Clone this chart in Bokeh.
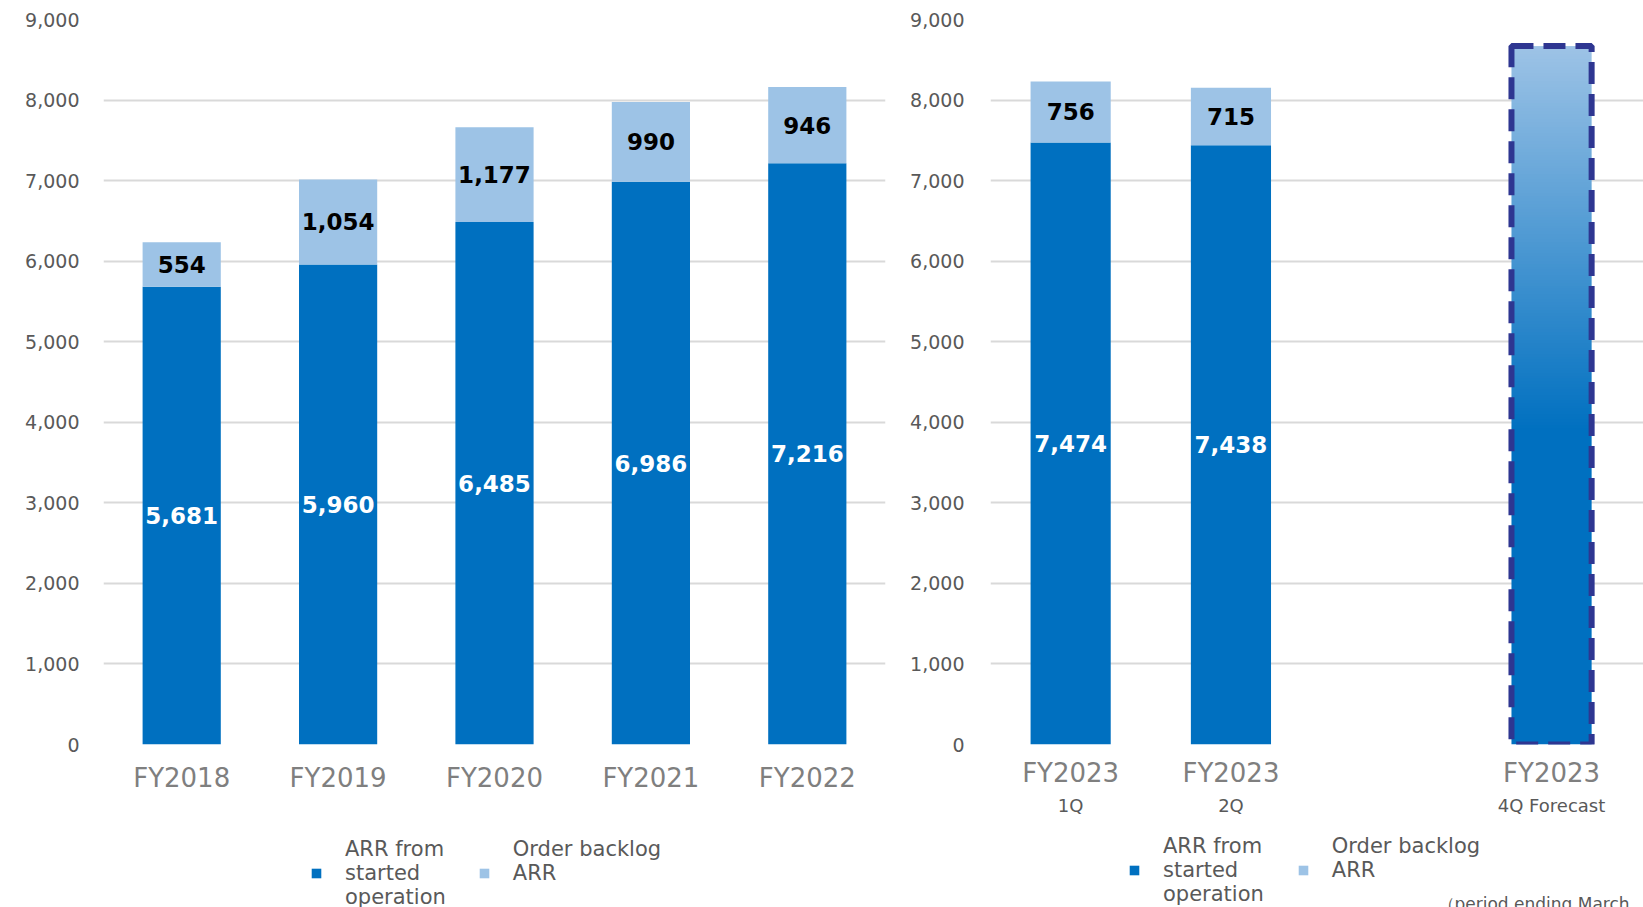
import numpy as np
from bokeh.plotting import figure
from bokeh.models import (ColumnDataSource, FactorRange, Range1d, FixedTicker,
                          NumeralTickFormatter, LinearAxis, Legend, LegendItem, Label)
from bokeh.layouts import row, column
from bokeh.core.properties import value
from bokeh.embed import file_html
from bokeh.resources import INLINE

# ---------------- data ----------------
years = ["FY2018", "FY2019", "FY2020", "FY2021", "FY2022"]
arr_started = [5681, 5960, 6485, 6986, 7216]
arr_backlog = [554, 1054, 1177, 990, 946]

quarter_slots = ["1Q", "2Q", "3Q", "4Q"]
q_periods = ["1Q", "2Q"]
q_started = [7474, 7438]
q_backlog = [756, 715]
forecast_slot = "4Q"
forecast_total = 8670

q_tick_slots = ["1Q", "2Q", "4Q"]
q_main_labels = ["FY2023", "FY2023", "FY2023"]
q_sub_labels = ["1Q", "2Q", "4Q Forecast"]

y_ticks = [0, 1000, 2000, 3000, 4000, 5000, 6000, 7000, 8000, 9000]
series_names = ["ARR from\nstarted\noperation", "Order backlog\nARR\n "]
note_text = "（period ending March."

# ---------------- style ----------------
FONT = "DejaVu Sans"
DARK = "#0070C0"
LIGHT = "#9DC3E6"
GRID = "#D9D9D9"
GREY = "#595959"
XGREY = "#7F7F7F"
BORDER = "#2E3691"
BAR_W = 0.5
TOP_H = 814          # height of the two chart panels
LEG_H = 907 - TOP_H  # height of the legend strip


def style_common(p, left_standoff):
    p.outline_line_color = None
    p.background_fill_color = "white"
    p.border_fill_color = "white"
    p.xgrid.grid_line_color = None
    p.ygrid.grid_line_color = GRID
    p.ygrid.grid_line_width = 2
    p.yaxis.ticker = FixedTicker(ticks=y_ticks, minor_ticks=[])
    p.yaxis.formatter = NumeralTickFormatter(format="0,0")
    for ax in p.yaxis:
        ax.axis_line_color = None
        ax.major_tick_line_color = None
        ax.minor_tick_line_color = None
        ax.major_tick_out = 0
        ax.major_label_standoff = left_standoff
        ax.major_label_text_font = FONT
        ax.major_label_text_font_size = "19px"
        ax.major_label_text_color = GREY


def style_xaxis(ax, size, color, standoff):
    ax.axis_line_color = None
    ax.major_tick_line_color = None
    ax.minor_tick_line_color = None
    ax.major_tick_out = 0
    ax.major_label_standoff = standoff
    ax.major_label_text_font = FONT
    ax.major_label_text_font_size = size
    ax.major_label_text_color = color


def legend_strip(width, src, loc, spacing):
    f = figure(width=width, height=LEG_H, x_range=Range1d(0, 1), y_range=Range1d(0, 1),
               x_axis_type=None, y_axis_type=None, min_border=0,
               output_backend="svg", toolbar_location=None)
    f.outline_line_color = None
    f.grid.grid_line_color = None
    f.background_fill_color = "white"
    f.border_fill_color = "white"
    rs = f.vbar_stack(["started", "backlog"], x="x", width=BAR_W,
                      color=[DARK, LIGHT], line_color=None, source=src)
    for r in rs:
        r.visible = False
    leg = Legend(
        items=[LegendItem(label=series_names[0], renderers=[rs[0]]),
               LegendItem(label=series_names[1], renderers=[rs[1]])],
        location=loc, orientation="horizontal",
        border_line_color=None, background_fill_alpha=0,
        padding=0, margin=0, glyph_width=12, glyph_height=12,
        label_standoff=23, spacing=spacing,
        label_text_font=FONT, label_text_font_size="21px",
        label_text_color=GREY, label_text_line_height=1.45)
    f.add_layout(leg)
    return f


def bar_labels(p, src):
    p.text(x="x", y="y_s", text="t_s", source=src, text_color="white",
           text_font=value(FONT), text_font_size="23px", text_font_style="bold",
           text_align="center", text_baseline="middle")
    p.text(x="x", y="y_b", text="t_b", source=src, text_color="black",
           text_font=value(FONT), text_font_size="23px", text_font_style="bold",
           text_align="center", text_baseline="middle")


# ---------------- left panel ----------------
src1 = ColumnDataSource(dict(
    x=years, started=arr_started, backlog=arr_backlog,
    y_s=[v / 2 for v in arr_started],
    y_b=[s + b / 2 for s, b in zip(arr_started, arr_backlog)],
    t_s=[f"{v:,}" for v in arr_started],
    t_b=[f"{v:,}" for v in arr_backlog]))

p1 = figure(x_range=FactorRange(*years), y_range=Range1d(0, 9000),
            frame_width=782, frame_height=725,
            min_border_left=103, min_border_right=10,
            min_border_top=19, min_border_bottom=TOP_H - 19 - 725,
            output_backend="svg", toolbar_location=None)
style_common(p1, 24)
style_xaxis(p1.xaxis[0], "26px", XGREY, 18)

p1.vbar_stack(["started", "backlog"], x="x", width=BAR_W,
              color=[DARK, LIGHT], line_color=None, source=src1)
bar_labels(p1, src1)

# ---------------- right panel ----------------
slot_w = 160.3
x_q = [quarter_slots.index(q) + 1 for q in q_periods]
x_f = quarter_slots.index(forecast_slot) + 1
x_ticks = [quarter_slots.index(q) + 1 for q in q_tick_slots]

src2 = ColumnDataSource(dict(
    x=x_q, started=q_started, backlog=q_backlog,
    y_s=[v / 2 for v in q_started],
    y_b=[s + b / 2 for s, b in zip(q_started, q_backlog)],
    t_s=[f"{v:,}" for v in q_started],
    t_b=[f"{v:,}" for v in q_backlog]))

p2 = figure(x_range=Range1d(0.5, 0.5 + 653 / slot_w), y_range=Range1d(0, 9000),
            frame_width=653, frame_height=725,
            min_border_left=95, min_border_right=0,
            min_border_top=19, min_border_bottom=TOP_H - 19 - 725,
            output_backend="svg", toolbar_location=None)
style_common(p2, 26)
p2.xaxis.ticker = FixedTicker(ticks=x_ticks, minor_ticks=[])
p2.xaxis.major_label_overrides = {x: l for x, l in zip(x_ticks, q_main_labels)}
style_xaxis(p2.xaxis[0], "26px", XGREY, 13)
ax_sub = LinearAxis(ticker=FixedTicker(ticks=x_ticks, minor_ticks=[]),
                    major_label_overrides={x: l for x, l in zip(x_ticks, q_sub_labels)})
style_xaxis(ax_sub, "18px", GREY, 4)
p2.add_layout(ax_sub, "below")

p2.vbar_stack(["started", "backlog"], x="x", width=BAR_W,
              color=[DARK, LIGHT], line_color=None, source=src2)
bar_labels(p2, src2)

# forecast bar: vertical gradient fill + dashed outline
H = 256
frac = np.linspace(0, 1, H)
t = np.clip((frac - 0.45) / 0.55, 0, 1)
c_dark = np.array([0x00, 0x70, 0xC0], dtype=float)
c_light = np.array([0x9D, 0xC3, 0xE6], dtype=float)
rgb = c_dark[None, :] * (1 - t[:, None]) + c_light[None, :] * t[:, None]
img = np.zeros((H, 1), dtype=np.uint32)
view = img.view(dtype=np.uint8).reshape((H, 1, 4))
view[:, 0, 0] = rgb[:, 0].round().astype(np.uint8)
view[:, 0, 1] = rgb[:, 1].round().astype(np.uint8)
view[:, 0, 2] = rgb[:, 2].round().astype(np.uint8)
view[:, 0, 3] = 255
p2.image_rgba(image=[img], x=x_f - BAR_W / 2, y=0, dw=BAR_W, dh=forecast_total)
p2.quad(left=[x_f - BAR_W / 2], right=[x_f + BAR_W / 2], bottom=[0], top=[forecast_total],
        fill_color=None, line_color=BORDER, line_width=6, line_dash="22 10")

# ---------------- legend strips ----------------
leg1 = legend_strip(895, src1, (310, 2), 32)
leg2 = legend_strip(748, src2, (233, 5), 33)
leg2.add_layout(Label(x=542, y=8, x_units="screen", y_units="screen",
                      text=note_text, text_font=FONT, text_font_size="17px",
                      text_color=GREY, text_baseline="middle", text_align="left"))

layout = column(row(p1, p2), row(leg1, leg2))
open("out.html", "w").write(file_html(layout, INLINE))
